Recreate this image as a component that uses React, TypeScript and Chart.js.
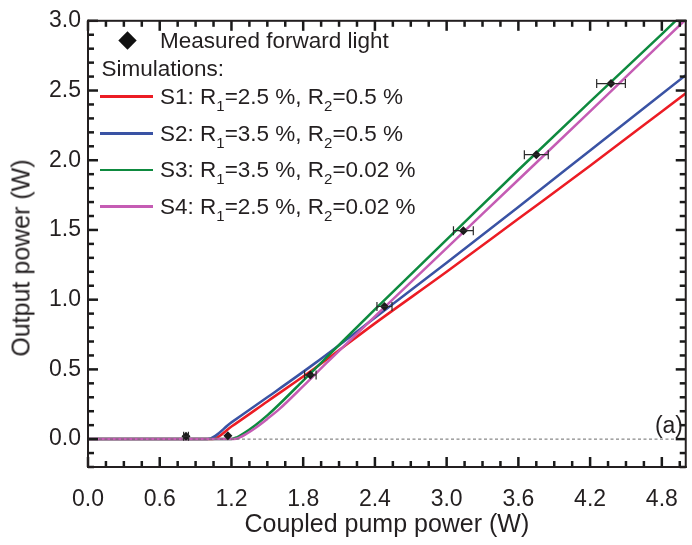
import React, { useEffect, useRef } from "react";
import { Chart, registerables } from "chart.js";

Chart.register(...registerables);

const FONT = "'Liberation Sans', Arial, Helvetica, sans-serif";
const INK = "#231F20";

const xRange = [0, 5];
const yRange = [-0.2, 3.0];
const xTickValues = [0, 0.6, 1.2, 1.8, 2.4, 3.0, 3.6, 4.2, 4.8];
const yTickValues = [0, 0.5, 1.0, 1.5, 2.0, 2.5, 3.0];
const xMinorTicks = [0.15, 0.3, 0.45, 0.75, 0.9, 1.05, 1.35, 1.5, 1.65, 1.95, 2.1, 2.25, 2.55, 2.7, 2.85, 3.15, 3.3, 3.45, 3.75, 3.9, 4.05, 4.35, 4.5, 4.65, 4.95];
const yMinorTicks = [-0.2, -0.1, 0.1, 0.2, 0.3, 0.4, 0.6, 0.7, 0.8, 0.9, 1.1, 1.2, 1.3, 1.4, 1.6, 1.7, 1.8, 1.9, 2.1, 2.2, 2.3, 2.4, 2.6, 2.7, 2.8, 2.9];

const measuredX = [0.82, 1.17, 1.86, 2.48, 3.14, 3.75, 4.375];
const measuredY = [0.02, 0.025, 0.46, 0.951, 1.495, 2.04, 2.55];
const measuredXErr = [0.02, 0.0, 0.048, 0.063, 0.083, 0.1, 0.12];

const s1X = [0, 1.04, 1.2, 1.5, 1.9, 2.4, 3.0, 3.6, 4.2, 4.8, 5.0];
const s1Y = [0, 0, 0.09, 0.27, 0.51, 0.83, 1.2, 1.58, 1.96, 2.35, 2.48];
const s2X = [0, 1.0, 1.2, 1.5, 1.9, 2.4, 3.0, 3.6, 4.2, 4.8, 5.0];
const s2Y = [0, 0, 0.12, 0.3, 0.545, 0.87, 1.265, 1.665, 2.07, 2.475, 2.61];
const s3X = [0, 1.2, 1.25, 1.3, 1.4, 1.5, 1.6, 1.8, 2.0, 2.4, 3.0, 3.6, 4.2, 4.8, 5.0];
const s3Y = [0, 0, 0.015, 0.04, 0.1, 0.17, 0.25, 0.42, 0.59, 0.93, 1.43, 1.93, 2.42, 2.905, 3.07];
const s4X = [0, 1.22, 1.27, 1.32, 1.4, 1.5, 1.6, 1.8, 2.0, 2.4, 3.0, 3.6, 4.2, 4.8, 5.0];
const s4Y = [0, 0, 0.012, 0.035, 0.08, 0.145, 0.215, 0.38, 0.55, 0.88, 1.37, 1.86, 2.35, 2.845, 3.01];
const zeroLineX = [0, 5];
const zeroLineY = [0, 0];

const seriesNames = ["S1", "S2", "S3", "S4"];
const r1Values = ["2.5", "3.5", "3.5", "2.5"];
const r2Values = ["0.5", "0.5", "0.02", "0.02"];
const seriesColors = ["#EC1C24", "#3A53A4", "#0E8A3F", "#C55CB4"];

const toPts = (xs: number[], ys: number[]) => xs.map((x, i) => ({ x, y: ys[i] }));

const MAJOR_LEN = 10;
const MINOR_LEN = 6;

function drawFrameTicks(chart: any) {
  const ctx: CanvasRenderingContext2D = chart.ctx;
  const a = chart.chartArea;
  const L = a.left, R = a.right, T = a.top, B = a.bottom;
  const xs = chart.scales.x;
  const ys = chart.scales.y;
  ctx.save();
  ctx.globalAlpha = 1;
  ctx.globalCompositeOperation = "source-over";
  ctx.fillStyle = "#1a1a1a";
  const w = 2.5;
  const xTick = (v: number, len: number) => {
    const p = xs.getPixelForValue(v);
    ctx.fillRect(p - w / 2, B - len, w, len);
    ctx.fillRect(p - w / 2, T, w, len);
  };
  const yTick = (v: number, len: number) => {
    const p = ys.getPixelForValue(v);
    ctx.fillRect(L, p - w / 2, len, w);
    ctx.fillRect(R - len, p - w / 2, len, w);
  };
  xTickValues.forEach((v) => xTick(v, MAJOR_LEN));
  xMinorTicks.forEach((v) => xTick(v, MINOR_LEN));
  yTickValues.forEach((v) => yTick(v, MAJOR_LEN));
  yMinorTicks.forEach((v) => yTick(v, MINOR_LEN));
  ctx.fillStyle = INK;
  const bw = 2;
  ctx.fillRect(L - 1, T - 1, R - L + 2, bw);
  ctx.fillRect(L - 1, B - 1, R - L + 2, bw);
  ctx.fillRect(L - 1, T - 1, bw, B - T + 2);
  ctx.fillRect(R - 1, T - 1, bw, B - T + 2);
  ctx.restore();
}

function drawErrorBars(chart: any) {
  const ctx = chart.ctx;
  const xs = chart.scales.x;
  const ys = chart.scales.y;
  ctx.save();
  ctx.setLineDash([]);
  ctx.strokeStyle = "#2a2a2a";
  ctx.lineWidth = 1.2;
  measuredX.forEach((x, i) => {
    const e = measuredXErr[i];
    if (!e) return;
    const y = ys.getPixelForValue(measuredY[i]);
    const l = xs.getPixelForValue(x - e);
    const r = xs.getPixelForValue(x + e);
    ctx.beginPath();
    ctx.moveTo(l, y);
    ctx.lineTo(r, y);
    ctx.moveTo(l, y - 4.5);
    ctx.lineTo(l, y + 4.5);
    ctx.moveTo(r, y - 4.5);
    ctx.lineTo(r, y + 4.5);
    ctx.stroke();
  });
  ctx.restore();
}

const overlayPlugin = {
  id: "overlayDeco",
  afterDraw(chart: any) {
    drawErrorBars(chart);
    drawFrameTicks(chart);
  },
};

export default function App() {
  const ref = useRef<HTMLCanvasElement>(null);

  useEffect(() => {
    if (!ref.current) return;
    const simLine = (xs: number[], ys: number[], color: string) => ({
      type: "line" as const,
      data: toPts(xs, ys),
      borderColor: color,
      backgroundColor: color,
      borderWidth: 2.5,
      pointRadius: 0,
      cubicInterpolationMode: "monotone" as const,
      fill: false,
    });
    const chart = new Chart(ref.current, {
      type: "line",
      data: {
        datasets: [
          {
            type: "scatter",
            data: toPts(measuredX, measuredY),
            pointStyle: "rectRot",
            pointRadius: 4.5,
            backgroundColor: "#1a1a1a",
            borderColor: "#1a1a1a",
            borderWidth: 0,
            showLine: false,
          } as any,
          {
            type: "line",
            data: toPts(zeroLineX, zeroLineY),
            borderColor: "#6a6a6a",
            borderWidth: 1,
            borderDash: [3, 2.5],
            pointRadius: 0,
          },
          simLine(s4X, s4Y, seriesColors[3]),
          simLine(s3X, s3Y, seriesColors[2]),
          simLine(s2X, s2Y, seriesColors[1]),
          simLine(s1X, s1Y, seriesColors[0]),
        ],
      },
      options: {
        responsive: false,
        animation: false,
        layout: { padding: { top: 12, right: 3, left: 0, bottom: 0 } },
        plugins: { legend: { display: false }, tooltip: { enabled: false } },
        scales: {
          x: {
            type: "linear",
            min: xRange[0],
            max: xRange[1],
            afterBuildTicks: (s: any) => {
              s.ticks = xTickValues.map((v) => ({ value: v }));
            },
            afterFit: (s: any) => {
              s.height = 78;
            },
            grid: { display: false, drawTicks: false },
            border: { display: false },
            ticks: {
              autoSkip: false,
              maxRotation: 0,
              padding: 19,
              color: INK,
              font: { family: FONT, size: 23 },
              callback: (v: any) => Number(v).toFixed(1),
            },
            title: {
              display: true,
              text: "Coupled pump power (W)",
              color: INK,
              font: { family: FONT, size: 25 },
              padding: { top: 0, bottom: 5 },
            },
          },
          y: {
            type: "linear",
            min: yRange[0],
            max: yRange[1],
            afterBuildTicks: (s: any) => {
              s.ticks = yTickValues.map((v) => ({ value: v }));
            },
            afterFit: (s: any) => {
              s.width = 88;
            },
            grid: { display: false, drawTicks: false },
            border: { display: false },
            ticks: {
              autoSkip: false,
              padding: 7,
              color: INK,
              font: { family: FONT, size: 23 },
              callback: (v: any) => Number(v).toFixed(1),
            },
            title: { display: false },
          },
        },
      },
      plugins: [overlayPlugin],
    });
    return () => chart.destroy();
  }, []);

  const textStyle: React.CSSProperties = {
    position: "absolute",
    fontFamily: FONT,
    fontSize: 22.5,
    lineHeight: "22px",
    color: INK,
    whiteSpace: "nowrap",
  };
  const sub: React.CSSProperties = { fontSize: 15, position: "relative", top: 7 };
  const rowCenters = [96.7, 133.3, 170, 206.3];

  return (
    <div style={{ position: "absolute", left: 0, top: 0, width: 692, height: 545, overflow: "hidden", background: "#fff" }}>
      <canvas ref={ref} width={697} height={545} style={{ display: "block" }} />
      <div
        style={{
          ...textStyle,
          fontSize: 25,
          lineHeight: "25px",
          left: 21,
          top: 258,
          transform: "translate(-50%, -50%) rotate(-90deg)",
        }}
      >
        Output power (W)
      </div>
      <div
        style={{
          position: "absolute",
          left: 127 - 6.5,
          top: 40.5 - 6.5,
          width: 13,
          height: 13,
          background: "#111",
          transform: "rotate(45deg)",
        }}
      />
      <div style={{ ...textStyle, left: 160, top: 40.5 - 10.7 }}>Measured forward light</div>
      <div style={{ ...textStyle, left: 101.5, top: 68.5 - 10.7 }}>Simulations:</div>
      {seriesNames.map((name, i) => (
        <React.Fragment key={name}>
          <div
            style={{
              position: "absolute",
              left: 100,
              top: rowCenters[i] - 1.25,
              width: 53,
              height: 2.5,
              background: seriesColors[i],
            }}
          />
          <div style={{ ...textStyle, left: 160, top: rowCenters[i] - 10.7 }}>
            {name}: R<span style={sub}>1</span>={r1Values[i]} %, R<span style={sub}>2</span>={r2Values[i]} %
          </div>
        </React.Fragment>
      ))}
      <div style={{ ...textStyle, fontSize: 23, right: 9, top: 425 - 11 }}>(a)</div>
    </div>
  );
}
